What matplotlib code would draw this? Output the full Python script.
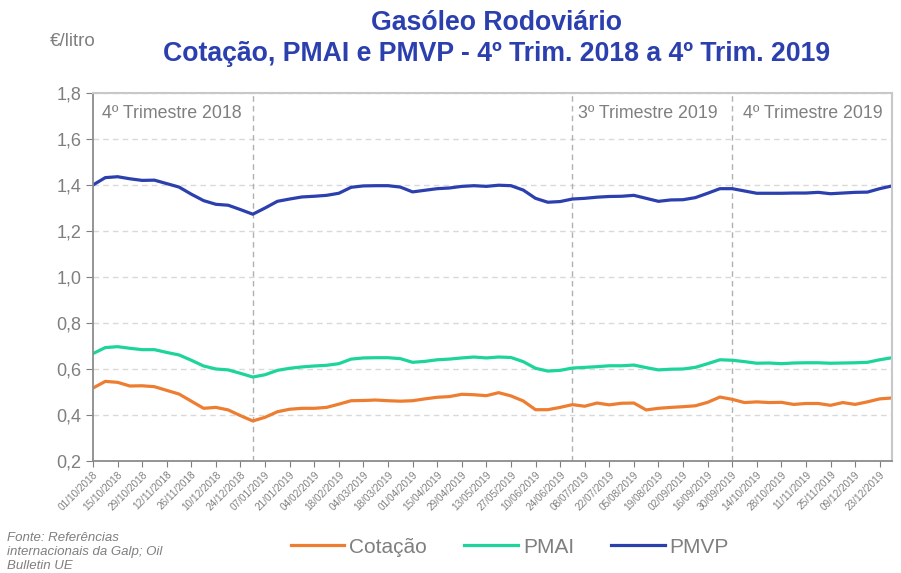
import numpy as np
import pandas as pd
import matplotlib
matplotlib.use("Agg")
import matplotlib.pyplot as plt

plt.rcParams['font.family'] = ['Liberation Sans', 'DejaVu Sans']

# weekly dates, 01/10/2018 .. 30/12/2019
dates = pd.date_range('2018-10-01', periods=66, freq='7D')

cotacao = [0.517, 0.546, 0.542, 0.526, 0.527, 0.523, 0.507, 0.491, 0.460, 0.429,
           0.433, 0.422, 0.397, 0.374, 0.390, 0.414, 0.425, 0.429, 0.429, 0.433,
           0.447, 0.462, 0.463, 0.465, 0.462, 0.460, 0.462, 0.470, 0.477, 0.480,
           0.490, 0.488, 0.484, 0.497, 0.483, 0.461, 0.423, 0.423, 0.433, 0.445,
           0.438, 0.452, 0.444, 0.451, 0.452, 0.422, 0.429, 0.433, 0.436, 0.440,
           0.455, 0.478, 0.468, 0.454, 0.457, 0.454, 0.455, 0.446, 0.450, 0.450,
           0.442, 0.454, 0.446, 0.457, 0.470, 0.474]

pmai = [0.667, 0.693, 0.697, 0.690, 0.684, 0.684, 0.672, 0.661, 0.638, 0.613,
        0.600, 0.596, 0.581, 0.565, 0.575, 0.594, 0.603, 0.609, 0.613, 0.616,
        0.623, 0.643, 0.648, 0.649, 0.649, 0.645, 0.629, 0.633, 0.640, 0.643,
        0.648, 0.652, 0.648, 0.652, 0.650, 0.632, 0.603, 0.591, 0.594, 0.604,
        0.607, 0.610, 0.614, 0.614, 0.617, 0.606, 0.596, 0.599, 0.600, 0.607,
        0.623, 0.640, 0.638, 0.632, 0.625, 0.626, 0.623, 0.626, 0.627, 0.627,
        0.625, 0.626, 0.627, 0.629, 0.640, 0.649]

pmvp = [1.400, 1.432, 1.436, 1.427, 1.420, 1.421, 1.406, 1.391, 1.360, 1.332,
        1.316, 1.312, 1.293, 1.273, 1.300, 1.329, 1.339, 1.348, 1.351, 1.355,
        1.364, 1.390, 1.396, 1.397, 1.397, 1.391, 1.370, 1.377, 1.384, 1.387,
        1.394, 1.397, 1.394, 1.399, 1.397, 1.378, 1.342, 1.325, 1.328, 1.339,
        1.342, 1.347, 1.350, 1.351, 1.355, 1.342, 1.329, 1.335, 1.336, 1.345,
        1.364, 1.384, 1.384, 1.374, 1.364, 1.364, 1.364, 1.365, 1.365, 1.368,
        1.362, 1.365, 1.368, 1.369, 1.384, 1.396]

# quarter separators and their labels
quarter_lines = ['2018-12-31', '2019-07-01', '2019-09-30']
quarter_labels = ['4º Trimestre 2018', '3º Trimestre 2019', '4º Trimestre 2019']
quarter_label_pos = ['2018-10-01', '2019-07-01', '2019-09-30']

gray = '#7f7f7f'
blue = '#2b3fae'

fig = plt.figure(figsize=(9.01, 5.73), dpi=100)
ax = fig.add_axes([0.1032, 0.1955, 0.8868, 0.6422])

x = np.arange(len(dates))
ax.plot(x, cotacao, color='#ed7d31', lw=2.3, label='Cotação')
ax.plot(x, pmai, color='#1dd49b', lw=2.3, label='PMAI')
ax.plot(x, pmvp, color=blue, lw=2.3, label='PMVP')

idx = {d.strftime('%Y-%m-%d'): i for i, d in enumerate(dates)}
for d in quarter_lines:
    ax.axvline(idx[d], color='#b0b0b0', ls=(0, (4, 3)), lw=1, zorder=1)
for lab, d, off in zip(quarter_labels, quarter_label_pos, [0.7, 0.45, 0.85]):
    ax.text(idx[d] + off, 1.692, lab, color=gray, fontsize=12.8, ha='left', va='baseline')

ax.set_xlim(0, len(dates) - 1)
ax.set_ylim(0.2, 1.8)
yt = np.arange(0.2, 1.81, 0.2)
ax.set_yticks(yt)
ax.set_yticklabels([f'{v:.1f}'.replace('.', ',') for v in yt], color=gray, fontsize=13)
ax.set_xticks(x[::2])
ax.set_xticklabels([d.strftime('%d/%m/%Y') for d in dates[::2]], rotation=45,
                   ha='right', rotation_mode='anchor', fontsize=7.2, color=gray)
ax.tick_params(axis='x', length=4, color=gray, pad=2)
ax.tick_params(axis='y', length=5, color=gray)
ax.grid(axis='y', color='#d9d9d9', ls=(0, (4, 3)), lw=1)
ax.set_axisbelow(True)
for s in ['left', 'bottom']:
    ax.spines[s].set_color('#8c8c8c')
    ax.spines[s].set_linewidth(1.3)
for s in ['top', 'right']:
    ax.spines[s].set_color('#c8c8c8')
    ax.spines[s].set_linewidth(1.5)

fig.text(0.5516, 1 - 30 / 573, 'Gasóleo Rodoviário', ha='center', va='baseline',
         fontsize=19.2, fontweight='bold', color=blue)
fig.text(0.5516, 1 - 61 / 573, 'Cotação, PMAI e PMVP - 4º Trim. 2018 a 4º Trim. 2019',
         ha='center', va='baseline', fontsize=19.2, fontweight='bold', color=blue)
fig.text(0.055, 1 - 46 / 573, '€/litro', ha='left', va='baseline', fontsize=13.5, color=gray)

fig.text(0.008, 0.036, 'Fonte: Referências\ninternacionais da Galp; Oil\nBulletin UE',
         ha='left', va='center', fontsize=9.5, style='italic', color=gray, linespacing=1.22)

leg = fig.legend(loc='center', bbox_to_anchor=(0.566, 0.045), ncol=3, frameon=False,
                 fontsize=15, handlelength=2.55, columnspacing=1.8, handletextpad=0.25)
for t in leg.get_texts():
    t.set_color(gray)

fig.savefig('out.png', dpi=100)
